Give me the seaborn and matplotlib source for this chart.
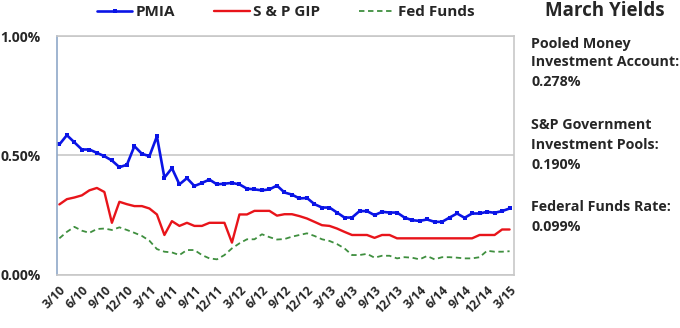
import numpy as np
import pandas as pd
import matplotlib
matplotlib.use("Agg")
import matplotlib.pyplot as plt
import seaborn as sns

# monthly yields, 3/10 .. 3/15 (percent)
months = [f"{m}/{y}" for y in range(10, 16) for m in range(1, 13)][2:63]

pmia = [0.546, 0.585, 0.555, 0.525, 0.525, 0.511, 0.497, 0.479, 0.451, 0.461,
        0.539, 0.507, 0.497, 0.580, 0.407, 0.447, 0.379, 0.405, 0.372, 0.385,
        0.399, 0.379, 0.382, 0.385, 0.379, 0.361, 0.358, 0.354, 0.358, 0.374,
        0.345, 0.336, 0.320, 0.322, 0.296, 0.282, 0.282, 0.261, 0.240, 0.240,
        0.267, 0.267, 0.250, 0.264, 0.261, 0.261, 0.240, 0.229, 0.226, 0.232,
        0.222, 0.222, 0.240, 0.257, 0.239, 0.257, 0.257, 0.264, 0.260, 0.267,
        0.278]

sp_gip = [0.295, 0.317, 0.324, 0.333, 0.354, 0.364, 0.347, 0.218, 0.306, 0.296,
          0.288, 0.288, 0.278, 0.253, 0.167, 0.225, 0.205, 0.218, 0.205, 0.205,
          0.218, 0.218, 0.218, 0.135, 0.253, 0.253, 0.268, 0.268, 0.268, 0.248,
          0.254, 0.254, 0.246, 0.236, 0.222, 0.208, 0.205, 0.194, 0.180, 0.167,
          0.167, 0.167, 0.155, 0.167, 0.167, 0.153, 0.153, 0.153, 0.153, 0.153,
          0.153, 0.153, 0.153, 0.153, 0.153, 0.153, 0.167, 0.167, 0.167, 0.190,
          0.190]

fed_funds = [0.153, 0.180, 0.201, 0.185, 0.176, 0.192, 0.194, 0.188, 0.199, 0.188,
             0.176, 0.163, 0.143, 0.108, 0.097, 0.094, 0.083, 0.104, 0.104, 0.083,
             0.069, 0.065, 0.083, 0.111, 0.132, 0.149, 0.149, 0.170, 0.158, 0.148,
             0.150, 0.160, 0.167, 0.174, 0.163, 0.149, 0.142, 0.129, 0.111, 0.083,
             0.083, 0.088, 0.072, 0.080, 0.080, 0.069, 0.074, 0.072, 0.065, 0.079,
             0.065, 0.074, 0.074, 0.072, 0.069, 0.069, 0.074, 0.101, 0.097, 0.097,
             0.099]

df = pd.DataFrame({"idx": np.arange(len(months)), "month": months,
                   "PMIA": pmia, "S & P GIP": sp_gip, "Fed Funds": fed_funds})

sns.set_style("white")
plt.rcParams["font.family"] = ["Open Sans", "DejaVu Sans"]
plt.rcParams["font.weight"] = "bold"

fig = plt.figure(figsize=(6.8, 3.28), dpi=100)
ax = fig.add_axes([0.084, 0.162, 0.672, 0.728])

sns.lineplot(data=df, x="idx", y="PMIA", ax=ax, color="#0a14e6", lw=1.9,
             marker="s", markersize=3, markeredgewidth=0, label="PMIA")
sns.lineplot(data=df, x="idx", y="S & P GIP", ax=ax, color="#e8141a", lw=1.7,
             label="S & P GIP")
sns.lineplot(data=df, x="idx", y="Fed Funds", ax=ax, color="#3f8f3f", lw=1.3,
             linestyle=(0, (3, 2)), label="Fed Funds")

ax.set_xlim(-0.3, 60.6)
ax.set_ylim(0, 1.0)
ax.set_yticks([0, 0.5, 1.0])
ax.set_yticklabels(["0.00%", "0.50%", "1.00%"], fontsize=10, fontweight="bold")
ax.yaxis.grid(True, color="#c8c8c8", lw=1.2)
ax.set_xticks(df["idx"][::3])
ax.set_xticklabels(df["month"][::3], rotation=45, ha="right",
                   rotation_mode="anchor", fontsize=8.8, fontweight="bold")
ax.tick_params(axis="y", length=5, color="#b0b0b0", pad=7)
ax.tick_params(axis="x", length=0, pad=6)
ax.set_xlabel("")
ax.set_ylabel("")
for s in ["top", "right", "bottom"]:
    ax.spines[s].set_color("#c8c8c8")
    ax.spines[s].set_linewidth(1.2)
ax.spines["left"].set_color("#8fa8c8")
ax.spines["left"].set_linewidth(1.2)

handles, labels = ax.get_legend_handles_labels()
ax.get_legend().remove()
fig.legend(handles, labels, loc="center", bbox_to_anchor=(0.42, 0.962), ncol=3,
           frameon=False, handlelength=2.3, handletextpad=0.2,
           columnspacing=2.6, prop={"weight": "bold", "size": 11})

fig.text(0.89, 0.965, "March Yields", ha="center", va="center",
         fontsize=13.5, fontweight="bold")
side = [(0.865, "Pooled Money"), (0.81, "Investment Account:"), (0.75, "0.278%"),
        (0.618, "S&P Government"), (0.558, "Investment Pools:"), (0.497, "0.190%"),
        (0.368, "Federal Funds Rate:"), (0.308, "0.099%")]
for y, t in side:
    fig.text(0.781, y, t, ha="left", va="center", fontsize=10.3, fontweight="bold")

fig.savefig("out.png", dpi=100)
